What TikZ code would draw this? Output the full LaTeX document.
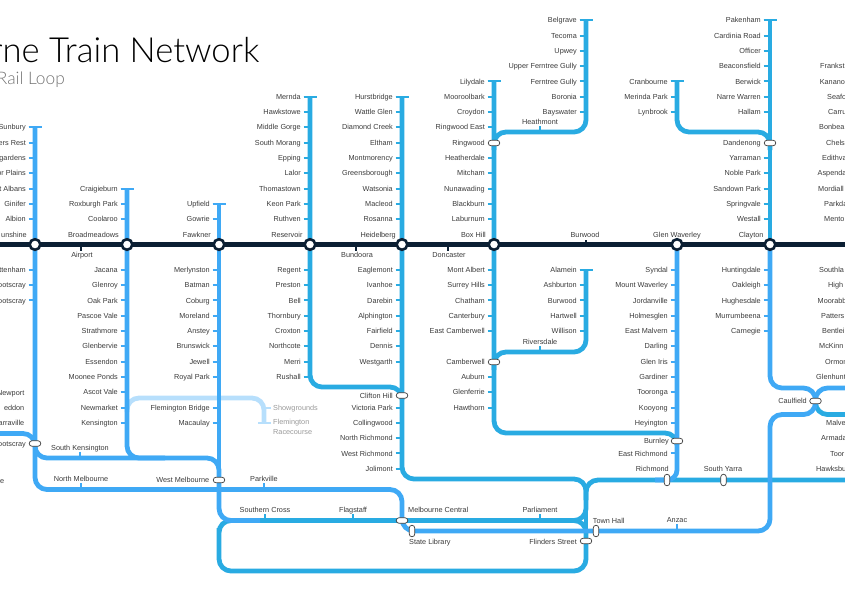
\documentclass[tikz,border=0pt]{standalone}
\usepackage{fontspec}
\setmainfont{Liberation Sans}
\newfontfamily\titlefont{Lato}[UprightFont=* Light]
\usepackage{tikz}
\usetikzlibrary{positioning, calc}

\definecolor{railA}{HTML}{3FA9F5}
\definecolor{railB}{HTML}{29ABE2}
\definecolor{railPale}{HTML}{B7DFFC}
\definecolor{railDark}{HTML}{0B1F33}
\definecolor{stopText}{HTML}{3A3A3A}

\tikzset{
  rail/.style={line width=4.8pt, rounded corners=12pt},
  stoptick/.style={line width=2pt},
  stoplabel/.style={font=\fontsize{7.3}{9.5}\selectfont, text=stopText, inner sep=0pt, anchor=mid east},
  stoplabelc/.style={stoplabel, anchor=mid},
  stoplabelw/.style={stoplabel, anchor=mid west},
  pill/.style={draw=stopText, fill=white, line width=0.7pt, rounded corners=2.8pt,
    minimum width=11.5pt, minimum height=5.6pt, inner sep=0pt},
  hub/.style={circle, draw=railDark, fill=white, line width=2.6pt, minimum size=10.6pt, inner sep=0pt}
}

% ticks and labels of one column of stops
\newcommand{\stoplist}[3]{%
  \foreach \name/\y in {#3} {
    \draw[stoptick, #2] (#1-6.5,\y) -- (#1,\y);
    \node[stoplabel] (\name) at (#1-9,\y) {\name};
  }}
% end of a line
\newcommand{\terminus}[3]{\draw[stoptick, #2] (#1-6.5,#3) -- (#1+6.5,#3);}

\begin{document}
\begin{tikzpicture}[x=1pt, y=-1pt]
\useasboundingbox (0,0) rectangle (845,592);

%------------------------------------------------
% Title
%------------------------------------------------
\node[anchor=base east, inner sep=0pt, font=\titlefont\fontsize{34.6}{36}\selectfont, text=black] (title) at (259.5,62) {rne Train Network};
\node[anchor=base east, inner sep=0pt, font=\titlefont\fontsize{17.3}{18}\selectfont, text=black!55] (subtitle) at (65,84) {Rail Loop};

%------------------------------------------------
% Lines
%------------------------------------------------
% Showgrounds branch
\draw[rail, railPale] (127,412) -- (127,398) -- (264,398) -- (264,423);
\draw[stoptick, railPale] (258,423) -- (271,423);
\draw[stoptick, railPale] (264,408) -- (271,408);

% City loop
\draw[rail, railB] (219,540) -- (219,571) -- (586,571) -- (586,520.5) -- (219,520.5) -- cycle;
\draw[rail, railB] (450,520.5) -- (586,520.5) -- (586,500);
\draw[rail, railB] (586,485) -- (586,560);

% West side
\draw[rail, railA] (35,127.3) -- (35,489.5) -- (402,489.5) -- (402,520.5);
\draw[rail, railA] (0,433.5) -- (35,433.5) -- (35,446);
\draw[rail, railA] (35,446) -- (35,458) -- (219,458) -- (219,520.5) -- (260,520.5);
\draw[rail, railA] (127,188.5) -- (127,458) -- (165,458);
\draw[rail, railA] (219,203.8) -- (219,480);

% North side
\draw[rail, railB] (310,96.7) -- (310,387) -- (402,387) -- (402,400);
\draw[rail, railB] (402,96.7) -- (402,479) -- (586,479) -- (586,500);
\draw[rail, railB] (586,500) -- (586,480) -- (845,480);
\draw[rail, railB] (494,81.4) -- (494,433) -- (677,433) -- (677,445);
\draw[rail, railB] (586,20.2) -- (586,132) -- (494,132) -- (494,150);
\draw[rail, railB] (586,269.8) -- (586,352) -- (494,352) -- (494,370);

% East side
\draw[rail, railB] (677,81.4) -- (677,132) -- (770,132) -- (770,150);
\draw[rail, railB] (770,20.2) -- (770,244.5);
\draw[rail, railA, rounded corners=10pt] (677,244.5) -- (677,480) -- (655,480);
\draw[rail, railA] (770,244.5) -- (770,388) -- (815.5,388) -- (815.5,401);
\draw[rail, railA] (845,388) -- (815.5,388) -- (815.5,401);
\draw[rail, railB] (845,414.5) -- (815.5,414.5) -- (815.5,401);
\draw[rail, railA] (815.5,401) -- (815.5,414.5) -- (770,414.5) -- (770,531) -- (402,531) -- (402,520.5);

% Main line
\draw[line width=5pt, railDark] (0,244.5) -- (845,244.5);
\foreach \x in {35,127,219,310,402,494,677,770} {
  \node[hub] (hub\x) at (\x,244.5) {};
}

%------------------------------------------------
% Stops
%------------------------------------------------
\stoplist{35}{railA}{Sunbury/127.3, ers Rest/142.6, gardens/157.9, or Plains/173.2, t Albans/188.5, Ginifer/203.8, Albion/219.1, ttenham/269.8, ootscray/285.1, ootscray/300.4}
\terminus{35}{railA}{127.3}
\stoplist{127}{railA}{Craigieburn/188.5, Roxburgh Park/203.8, Coolaroo/219.1, Jacana/269.8, Glenroy/285.1, Oak Park/300.4, Pascoe Vale/315.7, Strathmore/331, Glenbervie/346.3, Essendon/361.6, Moonee Ponds/376.9, Ascot Vale/392.2, Newmarket/407.5, Kensington/422.8}
\terminus{127}{railA}{188.5}
\stoplist{219}{railA}{Upfield/203.8, Gowrie/219.1, Merlynston/269.8, Batman/285.1, Coburg/300.4, Moreland/315.7, Anstey/331, Brunswick/346.3, Jewell/361.6, Royal Park/376.9, Flemington Bridge/407.5, Macaulay/422.8}
\terminus{219}{railA}{203.8}
\stoplist{310}{railB}{Mernda/96.7, Hawkstowe/112, Middle Gorge/127.3, South Morang/142.6, Epping/157.9, Lalor/173.2, Thomastown/188.5, Keon Park/203.8, Ruthven/219.1, Regent/269.8, Preston/285.1, Bell/300.4, Thornbury/315.7, Croxton/331, Northcote/346.3, Merri/361.6, Rushall/376.9}
\terminus{310}{railB}{96.7}
\stoplist{402}{railB}{Hurstbridge/96.7, Wattle Glen/112, Diamond Creek/127.3, Eltham/142.6, Montmorency/157.9, Greensborough/173.2, Watsonia/188.5, Macleod/203.8, Rosanna/219.1, Eaglemont/269.8, Ivanhoe/285.1, Darebin/300.4, Alphington/315.7, Fairfield/331, Dennis/346.3, Westgarth/361.6, Victoria Park/407.5, Collingwood/422.8, North Richmond/438.1, West Richmond/453.4, Jolimont/468.7}
\terminus{402}{railB}{96.7}
\stoplist{494}{railB}{Lilydale/81.4, Mooroolbark/96.7, Croydon/112, Ringwood East/127.3, Heatherdale/157.9, Mitcham/173.2, Nunawading/188.5, Blackburn/203.8, Laburnum/219.1, Mont Albert/269.8, Surrey Hills/285.1, Chatham/300.4, Canterbury/315.7, East Camberwell/331, Auburn/376.9, Glenferrie/392.2, Hawthorn/407.5}
\terminus{494}{railB}{81.4}
\stoplist{586}{railB}{Belgrave/20.2, Tecoma/35.5, Upwey/50.8, Upper Ferntree Gully/66.1, Ferntree Gully/81.4, Boronia/96.7, Bayswater/112, Alamein/269.8, Ashburton/285.1, Burwood/300.4, Hartwell/315.7, Willison/331}
\terminus{586}{railB}{20.2}
\terminus{586}{railB}{269.8}
\stoplist{677}{railB}{Cranbourne/81.4, Merinda Park/96.7, Lynbrook/112}
\terminus{677}{railB}{81.4}
\stoplist{677}{railA}{Syndal/269.8, Mount Waverley/285.1, Jordanville/300.4, Holmesglen/315.7, East Malvern/331, Darling/346.3, Glen Iris/361.6, Gardiner/376.9, Tooronga/392.2, Kooyong/407.5, Heyington/422.8, East Richmond/453.4}
\stoplist{770}{railB}{Pakenham/20.2, Cardinia Road/35.5, Officer/50.8, Beaconsfield/66.1, Berwick/81.4, Narre Warren/96.7, Hallam/112, Yarraman/157.9, Noble Park/173.2, Sandown Park/188.5, Springvale/203.8, Westall/219.1}
\terminus{770}{railB}{20.2}
\stoplist{770}{railA}{Huntingdale/269.8, Oakleigh/285.1, Hughesdale/300.4, Murrumbeena/315.7, Carnegie/331}

% stops beside the main line, without a tick
\foreach \name/\x in {unshine/27, Broadmeadows/119, Fawkner/211, Reservoir/302.7, Heidelberg/396, Box Hill/486, Clayton/763.7} {
  \node[stoplabel] (\name) at (\x,234.4) {\name};
}
\node[stoplabelc] (Glen Waverley) at (677,234.4) {Glen Waverley};

% stops at interchanges, without a tick
\node[stoplabel] (Ringwood) at (485,142.6) {Ringwood};
\node[stoplabel] (Camberwell) at (485,361.6) {Camberwell};
\node[stoplabel] (Dandenong) at (761,142.6) {Dandenong};
\node[stoplabel] (Clifton Hill) at (393,395.5) {Clifton Hill};
\node[stoplabel] (Burnley) at (669,441) {Burnley};
\node[stoplabel] (Richmond) at (669,469) {Richmond};
\node[stoplabel] (Caulfield) at (807,401) {Caulfield};
\node[stoplabel] (Footscray) at (26,443.5) {ootscray};
\node[stoplabel] (West Melbourne) at (209.5,479.5) {West Melbourne};
\node[stoplabel] (Flinders Street) at (577,541.5) {Flinders Street};
\node[stoplabelw] (Melbourne Central) at (408,510) {Melbourne Central};
\node[stoplabelw] (State Library) at (409,541.5) {State Library};
\node[stoplabelw] (Town Hall) at (592.7,520.5) {Town Hall};
\node[stoplabelc] (South Yarra) at (723,469) {South Yarra};

% Newport side and page edges
\foreach \name/\y in {Newport/392.5, eddon/408, arraville/423} {
  \node[stoplabel] (\name) at (24.5,\y) {\name};
}
\node[stoplabelw] (edge) at (0,481) {e};
\foreach \name/\x/\y in {Frankst/820/66.1, Kanano/819.6/81.4, Seafo/827/96.7, Carru/828/112, Bonbea/819/127.3, Chels/826/142.6, Edithva/822/157.9, Aspenda/817.5/173.2, Mordiall/818/188.5, Parkda/824/203.8, Mento/824/219.1, Southla/819/269.8, High/828/285.1, Moorabb/817.5/300.4, Patters/821/315.7, Bentlei/822/331, McKinn/819/346.3, Ormon/825/361.6, Glenhunt/816/376.9, Malve/826/422.8, Armada/821/438.1, Toor/830/453.4, Hawksbu/816/468.7} {
  \node[stoplabelw] (\name) at (\x,\y) {\name};
}

% labels with a small tick on a horizontal stretch
\foreach \name/\x/\y/\from/\to in {Airport/82/255/246/251, Bundoora/357/255/246/251, Doncaster/449/255/246/251} {
  \draw[stoptick, railDark] (\x-1,\from) -- (\x-1,\to);
  \node[stoplabelc] (\name) at (\x,\y) {\name};
}
\draw[stoptick, railDark] (586,244.5) -- (586,240);
\node[stoplabelc] (Burwood top) at (585,234.4) {Burwood};
\foreach \name/\x/\y/\col in {Heathmont/540/122/railB, Riversdale/540/342/railB, South Kensington/80/447.5/railA, North Melbourne/81/479/railA, Parkville/264/479/railA, Southern Cross/265/510/railB, Flagstaff/353/510/railB, Parliament/540/510/railB, Anzac/677/520/railA} {
  \draw[stoptick, \col] (\x,\y+4) -- (\x,\y+9);
  \node[stoplabelc] (\name) at (\x,\y) {\name};
}

% Greyed out stops
\node[stoplabelw, text=black!40] (Showgrounds) at (273,408) {Showgrounds};
\node[stoplabelw, text=black!40, align=left, anchor=north west] (Racecourse) at (273,419.5) {Flemington\\Racecourse};

%------------------------------------------------
% Interchanges
%------------------------------------------------
\foreach \x/\y [count=\i] in {35/443.5, 219/480, 402/395.5, 402/520.5, 586/541, 494/143, 494/362, 770/143, 677/441, 815.5/401} {
  \node[pill] (pillh\i) at (\x,\y) {};
}
\foreach \x/\y [count=\i] in {412/531, 596/531, 667/480, 723.5/480} {
  \node[pill, rotate=90] (pillv\i) at (\x,\y) {};
}
\end{tikzpicture}
\end{document}
